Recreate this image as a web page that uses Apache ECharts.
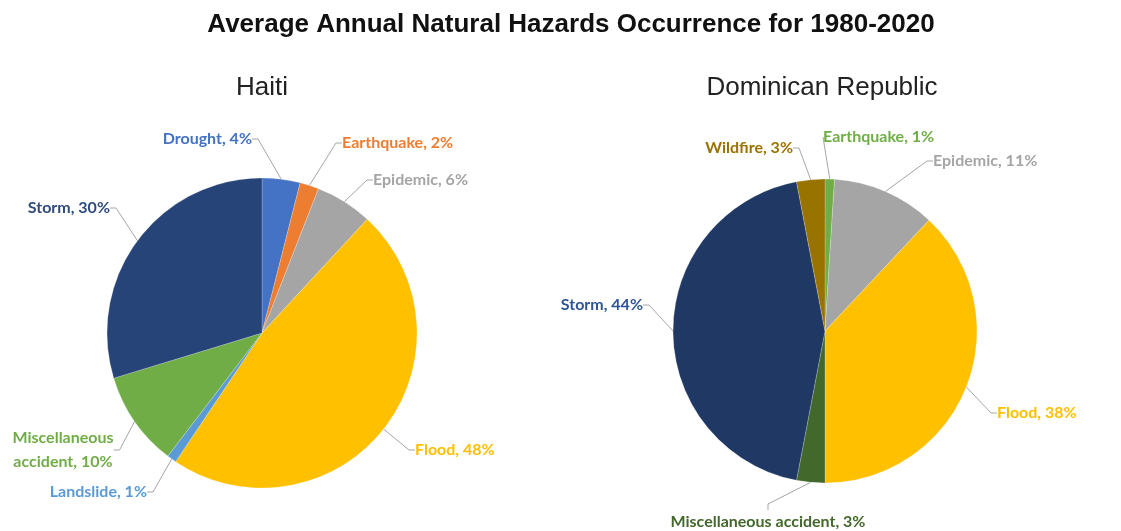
<!DOCTYPE html>
<html>
<head>
<meta charset="utf-8">
<title>Average Annual Natural Hazards Occurrence for 1980-2020</title>
<script src="https://cdn.jsdelivr.net/npm/echarts@6/dist/echarts.min.js"></script>
<style>
  html, body { margin: 0; padding: 0; background: #ffffff; }
  #chart { width: 1121px; height: 531px; }
</style>
</head>
<body>
<div id="chart"></div>
<script>
// Share of average annual hazard occurrences (%), 1980-2020
const haitiCategories = ['Drought', 'Earthquake', 'Epidemic', 'Flood', 'Landslide', 'Miscellaneous accident', 'Storm'];
const haitiValues = [4, 2, 6, 48, 1, 10, 30];
const haitiColors = ['#4472C4', '#ED7D31', '#A5A5A5', '#FFC000', '#5B9BD5', '#70AD47', '#264478'];
const haitiTextColors = ['#4472C4', '#ED7D31', '#A5A5A5', '#FFC000', '#5B9BD5', '#70AD47', '#2F4B7C'];

const drCategories = ['Earthquake', 'Epidemic', 'Flood', 'Miscellaneous accident', 'Storm', 'Wildfire'];
const drValues = [1, 11, 38, 3, 44, 3];
const drColors = ['#70AD47', '#A5A5A5', '#FFC000', '#43682B', '#203864', '#997300'];
const drTextColors = ['#70AD47', '#A5A5A5', '#FFC000', '#43682B', '#2F5597', '#997300'];

const chartTitle = 'Average Annual Natural Hazards Occurrence for 1980-2020';
const pieTitles = ['Haiti', 'Dominican Republic'];

// Callout placement for each slice label: [x, y, text alignment]
const haitiCallouts = [
  [252, 139, 'right'],
  [342, 143, 'left'],
  [373, 180, 'left'],
  [415, 450, 'left'],
  [147, 492, 'right'],
  [63, 450, 'center'],
  [110, 208, 'right']
];
const drCallouts = [
  [823, 137, 'left'],
  [933, 161, 'left'],
  [997, 413, 'left'],
  [768, 522, 'center'],
  [643, 305, 'right'],
  [793, 148, 'right']
];

const labelFont = 'Lato, "Open Sans", sans-serif';

function buildData(names, values, colors, textColors) {
  return names.map((n, i) => ({
    name: n,
    value: values[i],
    itemStyle: { color: colors[i] },
    label: { color: textColors[i] }
  }));
}

function pieSeries(name, center, radius, data, callouts, wrapLong) {
  return {
    type: 'pie',
    name: name,
    center: center,
    radius: radius,
    startAngle: 90,
    clockwise: true,
    avoidLabelOverlap: false,
    data: data,
    itemStyle: { borderColor: 'rgba(255,255,255,0.35)', borderWidth: 0.6 },
    label: {
      show: true,
      position: 'outside',
      fontFamily: labelFont,
      fontWeight: 'bold',
      fontSize: 16,
      lineHeight: 24,
      formatter: function (p) {
        const n = wrapLong ? p.name.replace(' ', '\n') : p.name;
        return n + ', ' + p.value + '%';
      }
    },
    labelLine: {
      show: true,
      length: 12,
      length2: 6,
      lineStyle: { color: '#A6A6A6', width: 1 }
    },
    labelLayout: function (p) {
      const c = callouts[p.dataIndex];
      return { x: c[0], y: c[1], align: c[2], verticalAlign: 'middle', hideOverlap: false };
    },
    emphasis: { disabled: true },
    animation: false
  };
}

const chart = echarts.init(document.getElementById('chart'), null, { renderer: 'canvas' });

chart.setOption({
  backgroundColor: '#ffffff',
  animation: false,
  title: [
    {
      text: chartTitle,
      left: 571, top: 12, textAlign: 'center', padding: 0,
      textStyle: { fontFamily: '"Liberation Sans", Arial, sans-serif', fontWeight: 'bold', fontSize: 26, color: '#111111' }
    },
    {
      text: pieTitles[0],
      left: 262, top: 75, textAlign: 'center', padding: 0,
      textStyle: { fontFamily: '"Liberation Sans", Arial, sans-serif', fontWeight: 'normal', fontSize: 26, color: '#222222' }
    },
    {
      text: pieTitles[1],
      left: 822, top: 75, textAlign: 'center', padding: 0,
      textStyle: { fontFamily: '"Liberation Sans", Arial, sans-serif', fontWeight: 'normal', fontSize: 26, color: '#222222' }
    }
  ],
  series: [
    pieSeries(pieTitles[0], [262, 333], 155,
      buildData(haitiCategories, haitiValues, haitiColors, haitiTextColors), haitiCallouts, true),
    pieSeries(pieTitles[1], [825, 331], 152,
      buildData(drCategories, drValues, drColors, drTextColors), drCallouts, false)
  ]
});
</script>
</body>
</html>
